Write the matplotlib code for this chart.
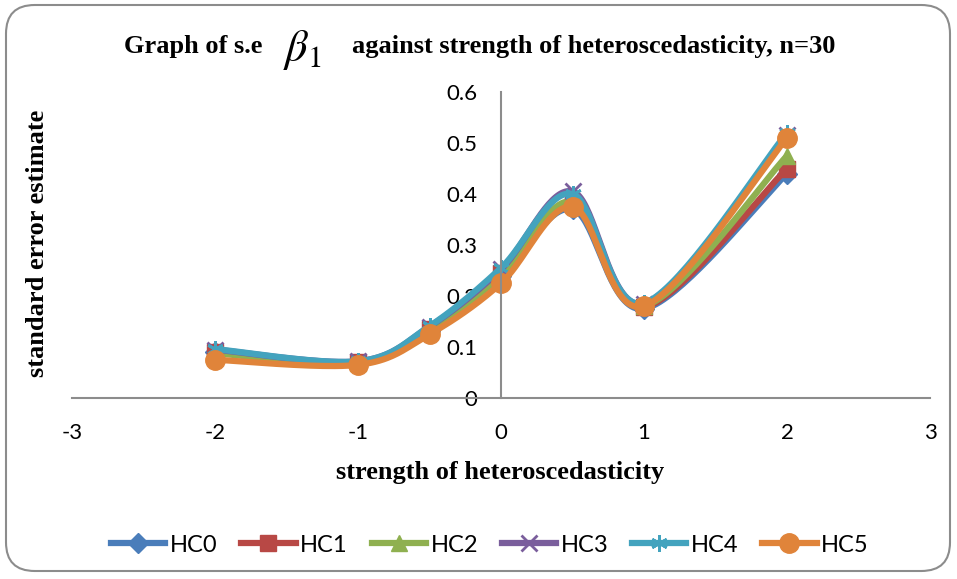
import numpy as np
import matplotlib
matplotlib.use("Agg")
import matplotlib.pyplot as plt
from matplotlib.patches import FancyBboxPatch

# strength of heteroscedasticity
strength = [-2, -1, -0.5, 0, 0.5, 1, 2]

hc0 = [0.090, 0.068, 0.132, 0.240, 0.370, 0.175, 0.440]
hc1 = [0.090, 0.070, 0.135, 0.245, 0.380, 0.178, 0.450]
hc2 = [0.088, 0.068, 0.132, 0.240, 0.385, 0.180, 0.475]
hc3 = [0.095, 0.072, 0.140, 0.252, 0.405, 0.185, 0.515]
hc4 = [0.096, 0.072, 0.141, 0.255, 0.400, 0.186, 0.520]
hc5 = [0.075, 0.065, 0.125, 0.225, 0.375, 0.180, 0.510]

names = ["HC0", "HC1", "HC2", "HC3", "HC4", "HC5"]
colors = ["#4A7DBA", "#B84845", "#8FB050", "#7A5E9C", "#43A3BE", "#E0843A"]
markers = ["D", "s", "^", "x", (6, 2, 0), "o"]
msizes = [10, 11, 12, 11, 12, 14]

yticks = [0, 0.1, 0.2, 0.3, 0.4, 0.5, 0.6]
ylabels = ["0", "0.1", "0.2", "0.3", "0.4", "0.5", "0.6"]
xticks = [-3, -2, -1, 0, 1, 2, 3]


def smooth(x, y, n=40):
    # catmull-rom style bezier, like excel's smoothed line
    x = np.asarray(x, float)
    y = np.asarray(y, float)
    px, py = [], []
    for i in range(len(x) - 1):
        i0 = max(i - 1, 0)
        i3 = min(i + 2, len(x) - 1)
        c1x = x[i] + (x[i + 1] - x[i0]) / 6
        c1y = y[i] + (y[i + 1] - y[i0]) / 6
        c2x = x[i + 1] - (x[i3] - x[i]) / 6
        c2y = y[i + 1] - (y[i3] - y[i]) / 6
        t = np.linspace(0, 1, n)
        a = (1 - t) ** 3
        b = 3 * (1 - t) ** 2 * t
        c = 3 * (1 - t) * t ** 2
        d = t ** 3
        px.extend(a * x[i] + b * c1x + c * c2x + d * x[i + 1])
        py.extend(a * y[i] + b * c1y + c * c2y + d * y[i + 1])
    return np.array(px), np.array(py)


plt.rcParams["font.family"] = ["Lato", "DejaVu Sans"]
plt.rcParams["mathtext.fontset"] = "stix"
plt.rcParams["axes.unicode_minus"] = False

fig = plt.figure(figsize=(9.57, 5.79), dpi=100)
ax = fig.add_axes([72 / 957, 1 - 398 / 579, 858 / 957, 306 / 579])

series = [hc0, hc1, hc2, hc3, hc4, hc5]
for vals, name, col, mk, ms in zip(series, names, colors, markers, msizes):
    sx, sy = smooth(strength, vals)
    ax.plot(sx, sy, color=col, lw=4.5, solid_capstyle="round", clip_on=False)
    mew = 2 if mk == "x" or isinstance(mk, tuple) else 1
    ax.plot(strength, vals, ls="none", marker=mk, ms=ms, color=col,
            mec=col, mew=mew, clip_on=False)
    ax.plot([], [], color=col, lw=4.5, marker=mk, ms=ms, mec=col, mew=mew,
            label=name)

ax.set_xlim(-3, 3)
ax.set_ylim(0, 0.6)
ax.set_xticks(xticks)
ax.set_yticks(yticks)
ax.set_yticklabels(ylabels)
ax.spines["left"].set_position(("data", 0))
ax.spines["top"].set_visible(False)
ax.spines["right"].set_visible(False)
for s in ("left", "bottom"):
    ax.spines[s].set_color("#8C8C8C")
    ax.spines[s].set_linewidth(1.5)
ax.tick_params(axis="both", length=0, labelsize=16)
ax.tick_params(axis="x", pad=18)
ax.tick_params(axis="y", pad=17)

serif = ["Liberation Serif", "DejaVu Serif"]
fig.text(262 / 957, 1 - 47 / 579, "Graph of s.e", ha="right", va="center",
         fontsize=19, fontweight="bold", family=serif)
fig.text(283 / 957, 1 - 50 / 579, r"$\beta_{\mathrm{1}}$", ha="left",
         va="center", fontsize=32)
fig.text(352 / 957, 1 - 47 / 579,
         "against strength of heteroscedasticity, n=30", ha="left",
         va="center", fontsize=19, fontweight="bold", family=serif)
fig.text(500 / 957, 1 - 472 / 579, "strength of heteroscedasticity",
         ha="center", va="center", fontsize=19, fontweight="bold",
         family=serif)
fig.text(38 / 957, 1 - 243 / 579, "standard error estimate", ha="center",
         va="center", rotation=90, fontsize=19, fontweight="bold",
         family=serif)

leg = fig.legend(loc="center", bbox_to_anchor=(490 / 957, 1 - 545 / 579),
                 ncol=6, frameon=False, fontsize=17, handlelength=2.3,
                 handletextpad=0.2, columnspacing=1.0)

border = FancyBboxPatch((6 / 957, 8 / 579), 944 / 957, 566 / 579,
                        boxstyle="round,pad=0,rounding_size=0.03",
                        transform=fig.transFigure, fill=False,
                        ec="#8C8C8C", lw=1.5, mutation_aspect=957 / 579)
fig.patches.append(border)

fig.savefig("out.png", dpi=100)
